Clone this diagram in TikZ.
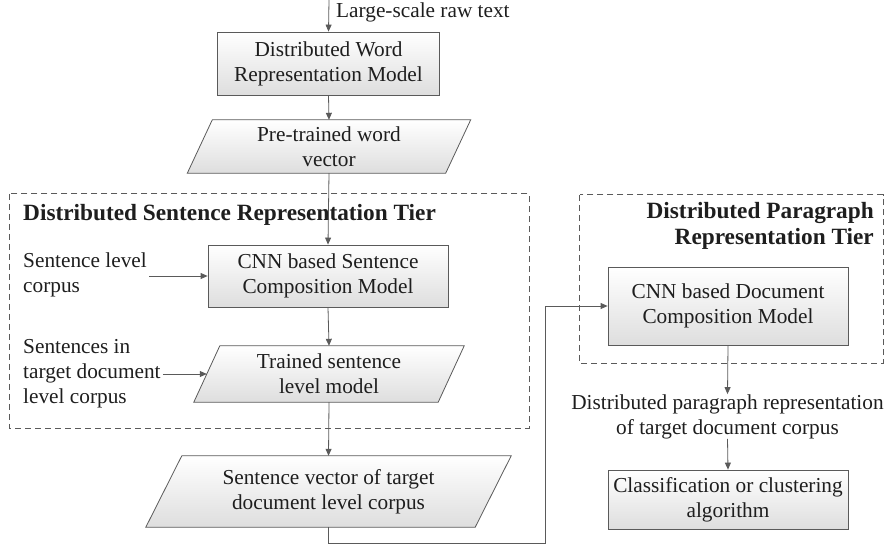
\documentclass[tikz,border=0pt]{standalone}
\usepackage{fontspec}
\setmainfont{Liberation Serif}
\usetikzlibrary{arrows.meta,calc,backgrounds}
\definecolor{lin}{HTML}{5A5A5A}
\definecolor{txt}{HTML}{1E1E1E}
\begin{document}
\begin{tikzpicture}[x=1pt,y=-1pt,
  font=\rmfamily\fontsize{21.3}{25}\selectfont, text=txt,
  every node/.style={inner sep=2pt},
  arr/.style={draw=lin, line width=0.8pt, -{Triangle[length=7pt,width=6pt]}},
  ln/.style={draw=lin, line width=0.8pt},
  boxfill/.style={draw=lin, line width=0.8pt, top color=white, bottom color=black!13},
  procbox/.style={boxfill, align=center, inner sep=0pt},
  paratext/.style={align=center, inner sep=0pt},
  tier/.style={draw=lin, line width=0.8pt, dash pattern=on 6pt off 4pt},
  tiertitle/.style={font=\rmfamily\fontsize{23.3}{26}\selectfont\bfseries}
]
\useasboundingbox (0,0) rectangle (886,546);

% top input
\coordinate (raw) at (329,0);
\node[anchor=west] (rawlbl) at (334,12) {Large-scale raw text};
\node[procbox, minimum width=222pt, minimum height=63pt] (dwr) at (328.5,63.5) {Distributed Word\\Representation Model};

% pre-trained word vector
\node[paratext, minimum width=258pt, minimum height=53pt] (ptv) at (329,146.5) {Pre-trained word\\vector};

% sentence tier
\node[draw=none, minimum width=519pt, minimum height=234pt, inner sep=0pt] (stier) at (269.5,311) {};
\draw[tier] (stier.north west) rectangle (stier.south east);
\node[tiertitle, anchor=west] (stitle) at (21,215) {Distributed Sentence Representation Tier};

\node[procbox, minimum width=240pt, minimum height=62pt] (csm) at (328,276) {CNN based Sentence\\Composition Model};
\node[anchor=west, align=left] (slc) at (21,275) {Sentence level\\corpus};

\node[paratext, minimum width=244pt, minimum height=56pt] (tsm) at (329,374) {Trained sentence\\level model};
\node[anchor=west, align=left] (sit) at (21,374) {Sentences in\\target document\\level corpus};

% sentence vector
\node[paratext, minimum width=329pt, minimum height=71pt] (svec) at (328.5,491.5) {Sentence vector of target\\document level corpus};

% paragraph tier
\node[draw=none, minimum width=303pt, minimum height=168pt, inner sep=0pt] (ptier) at (731.5,279) {};
\draw[tier] (ptier.north west) rectangle (ptier.south east);
\node[tiertitle, anchor=east, align=right] (ptitle) at (876,226) {Distributed Paragraph\\Representation Tier};

\node[procbox, minimum width=240pt, minimum height=78pt] (dcm) at (728,306) {CNN based Document\\Composition Model};
\node[align=center, inner sep=0pt] (dpr) at (727.5,416.5) {Distributed paragraph representation\\of target document corpus};
\node[procbox, minimum width=240pt, minimum height=59pt] (cls) at (728,499.5) {Classification or clustering\\algorithm};

% parallelogram outlines
\begin{scope}[on background layer]
\draw[boxfill] ([xshift=12.5pt]ptv.north west) -- ([xshift=12.5pt]ptv.north east) -- ([xshift=-12.5pt]ptv.south east) -- ([xshift=-12.5pt]ptv.south west) -- cycle;
\draw[boxfill] ([xshift=13pt]tsm.north west) -- ([xshift=13pt]tsm.north east) -- ([xshift=-13pt]tsm.south east) -- ([xshift=-13pt]tsm.south west) -- cycle;
\draw[boxfill] ([xshift=18pt]svec.north west) -- ([xshift=18pt]svec.north east) -- ([xshift=-18pt]svec.south east) -- ([xshift=-18pt]svec.south west) -- cycle;
\end{scope}

% connectors
\draw[arr] (raw) -- (dwr.north);
\draw[arr] (dwr.south) -- (ptv.north);
\draw[arr] (ptv.south) -- (csm.north);
\draw[arr] (csm.south) -- (tsm.north);
\draw[arr] (tsm.south) -- (svec.north);
\draw[arr] (slc.east |- csm.west) -- (csm.west);
\draw[arr] (sit.east |- tsm.west) -- (tsm.west);
\coordinate (c1) at (328.5,543);
\coordinate (c2) at (545,543);
\draw[arr] (svec.south) -- (c1) -- (c2) |- (dcm.west);
\draw[arr] (dcm.south) -- (dpr.north);
\draw[arr] (dpr.south) -- (cls.north);
\end{tikzpicture}
\end{document}
